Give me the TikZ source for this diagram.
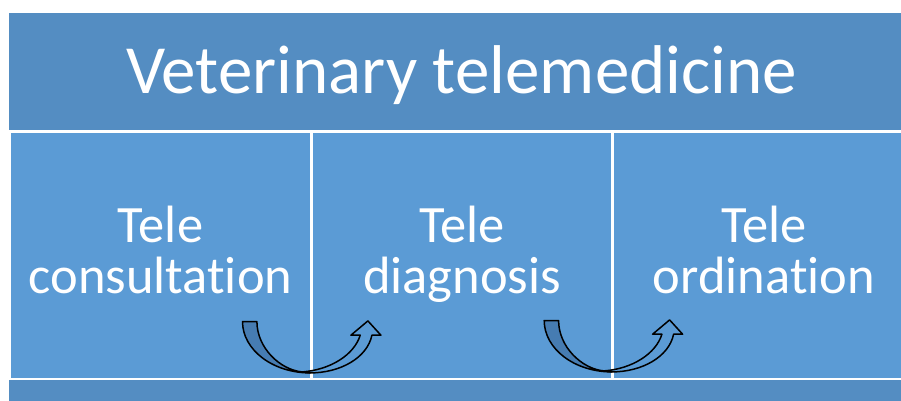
\documentclass[tikz,border=0pt]{standalone}
\usepackage{fontspec}
\setmainfont{Carlito}[Ligatures=NoCommon]

\definecolor{bandblue}{RGB}{84,141,194}
\definecolor{boxblue}{RGB}{91,155,213}
\definecolor{taildark}{RGB}{70,124,178}

\tikzset{
  band/.style={fill=bandblue, text=white, inner sep=0pt},
  panel/.style={fill=boxblue, text=white, inner sep=0pt, align=center,
    minimum height=245pt, text height=75pt, text depth=0pt,
    font=\fontsize{52.5}{51}\selectfont},
  uturn/.pic={
    % light part with the head
    \draw[line width=1.5pt, fill=boxblue, line join=round]
      (-8,-1) .. controls (20,-3) and (44,-18) .. (50,-37.7) -- (40.7,-37.7)
      -- (57.7,-52) -- (70.7,-37.7) -- (61.7,-37.7)
      .. controls (57,-15) and (30,0) .. (0,0) -- cycle;
    % dark tail
    \draw[line width=1.5pt, fill=taildark, line join=round]
      (-67.7,-51.4) -- (-53.3,-51.4) .. controls (-53.3,-25) and (-30,-3) .. (-8,-1)
      -- (0,0) .. controls (-37.4,0) and (-67.7,-23) .. cycle;
  }
}

\begin{document}
\begin{tikzpicture}[x=1pt,y=-1pt]
      \clip (0,0) rectangle (901,400);
      \fill[white] (0,0) rectangle (901,400);
      \node[band, minimum width=905pt, minimum height=117pt, text height=43pt, text depth=0pt,
        font=\fontsize{69}{80}\selectfont] (title) at (461.5,71.5) {Veterinary telemedicine};
      \node[panel, minimum width=299pt] (consult) at (160.5,255.5) {Tele\\consultation};
      \node[panel, minimum width=298pt] (diagnos) at (462,255.5) {Tele\\diagnosis};
      \node[panel, minimum width=300pt] (ordin) at (764,255.5) {Tele\\ordination};
      \node[band, minimum width=905pt, minimum height=22pt] (foot) at (461.5,391) {};
      \pic[yshift=5.3pt] at (consult.south east) {uturn};
      \pic[xshift=0.7pt, yshift=6.3pt] at (diagnos.south east) {uturn};
\end{tikzpicture}
\end{document}
